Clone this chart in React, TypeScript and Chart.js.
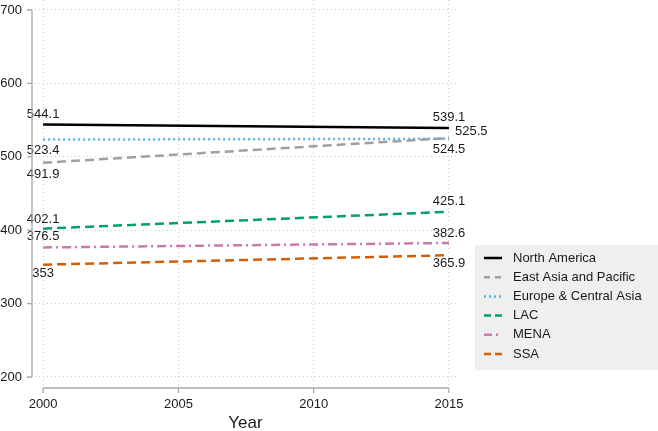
import React, { useEffect, useRef } from "react";
import { Chart, registerables } from "chart.js";

Chart.register(...registerables);

const years = [2000, 2015];
const seriesNames = [
  "North America",
  "East Asia and Pacific",
  "Europe & Central Asia",
  "LAC",
  "MENA",
  "SSA",
];
const northAmerica = [544.1, 539.1];
const eastAsiaPacific = [491.9, 525.5];
const europeCentralAsia = [523.4, 524.5];
const lac = [402.1, 425.1];
const mena = [376.5, 382.6];
const ssa = [353, 365.9];
const xTicks = [2000, 2005, 2010, 2015];
const yTicks = [200, 300, 400, 500, 600, 700];
const xTitle = "Year";

const seriesValues = [northAmerica, eastAsiaPacific, europeCentralAsia, lac, mena, ssa];
const colors = ["#000000", "#a0a0a0", "#56b4e9", "#009e73", "#cc79a7", "#d55e00"];
const dashes: number[][] = [[], [9, 5], [2, 3], [9, 5], [9, 4, 2, 4], [9, 5]];
const legendDashes: number[][] = [[], [6, 5], [2, 3], [7, 4], [8, 4, 2, 4], [7, 4]];
// label placement per series / point: [dx, dy, align]
const labelPlacement: [number, number, CanvasTextAlign][][] = [
  [[0, -10, "center"], [0, -11, "center"]],
  [[0, 12, "center"], [6, -7, "left"]],
  [[0, 11, "center"], [0, 11, "center"]],
  [[0, -9, "center"], [0, -10, "center"]],
  [[0, -11, "center"], [0, -10, "center"]],
  [[0, 9, "center"], [0, 8, "center"]],
];

const FONT = "'Liberation Sans', Arial, Helvetica, sans-serif";

const axesPlugin = {
  id: "customAxes",
  afterDraw(chart: any) {
    const ctx = chart.ctx;
    const xs = chart.scales.x;
    const ys = chart.scales.y;
    ctx.save();
    ctx.strokeStyle = "#a8a8a8";
    ctx.lineWidth = 1.3;
    ctx.setLineDash([]);
    const axX = chart.chartArea.left - 3;
    const yTop = ys.getPixelForValue(yTicks[yTicks.length - 1]);
    const yBot = ys.getPixelForValue(yTicks[0]);
    ctx.beginPath();
    ctx.moveTo(axX, yTop);
    ctx.lineTo(axX, yBot);
    yTicks.forEach((t) => {
      const p = ys.getPixelForValue(t);
      ctx.moveTo(axX - 5, p);
      ctx.lineTo(axX, p);
    });
    const axY = chart.chartArea.bottom + 3;
    const xL = xs.getPixelForValue(xTicks[0]);
    const xR = xs.getPixelForValue(xTicks[xTicks.length - 1]);
    ctx.moveTo(xL, axY);
    ctx.lineTo(xR, axY);
    xTicks.forEach((t) => {
      const p = xs.getPixelForValue(t);
      ctx.moveTo(p, axY);
      ctx.lineTo(p, axY + 5);
    });
    ctx.stroke();
    ctx.restore();
  },
};

const labelsPlugin = {
  id: "pointLabels",
  afterDatasetsDraw(chart: any) {
    const ctx = chart.ctx;
    ctx.save();
    ctx.font = `13px ${FONT}`;
    ctx.fillStyle = "#1a1a1a";
    ctx.textBaseline = "middle";
    chart.data.datasets.forEach((ds: any, i: number) => {
      const meta = chart.getDatasetMeta(i);
      meta.data.forEach((pt: any, j: number) => {
        const [dx, dy, align] = labelPlacement[i][j];
        ctx.textAlign = align;
        ctx.fillText(String(ds.data[j].y), pt.x + dx, pt.y + dy);
      });
    });
    ctx.restore();
  },
};

const legendPlugin = {
  id: "customLegend",
  afterDraw(chart: any) {
    const ctx = chart.ctx;
    const boxX = chart.chartArea.right + 19;
    const boxY = 245;
    const boxW = chart.width - boxX;
    const rowH = 19.2;
    const boxH = 12 + rowH * seriesNames.length - 2;
    ctx.save();
    ctx.fillStyle = "#efefef";
    ctx.fillRect(boxX, boxY, boxW, boxH);
    ctx.font = `13px ${FONT}`;
    ctx.textBaseline = "middle";
    ctx.textAlign = "left";
    chart.data.datasets.forEach((ds: any, i: number) => {
      const cy = boxY + 13 + i * rowH;
      ctx.strokeStyle = ds.borderColor;
      ctx.lineWidth = 2.5;
      ctx.setLineDash(legendDashes[i]);
      ctx.beginPath();
      ctx.moveTo(boxX + 9, cy);
      ctx.lineTo(boxX + 27, cy);
      ctx.stroke();
      ctx.setLineDash([]);
      ctx.fillStyle = "#1a1a1a";
      ctx.fillText(ds.label, boxX + 38, cy);
    });
    ctx.restore();
  },
};

export default function App() {
  const ref = useRef<HTMLCanvasElement | null>(null);
  useEffect(() => {
    document.body.style.margin = "0";
    const canvas = ref.current;
    if (!canvas) return;
    const datasets = seriesNames.map((name, i) => ({
      label: name,
      data: years.map((yr, j) => ({ x: yr, y: seriesValues[i][j] })),
      borderColor: colors[i],
      backgroundColor: colors[i],
      borderWidth: 2.5,
      borderDash: dashes[i],
      pointRadius: 0,
      fill: false,
      tension: 0,
    }));
    const chart = new Chart(canvas, {
      type: "line",
      data: { datasets },
      plugins: [axesPlugin, labelsPlugin, legendPlugin],
      options: {
        animation: false,
        responsive: false,
        devicePixelRatio: 1,
        layout: { padding: { top: 0, right: 202, bottom: 0, left: 0 } },
        plugins: { legend: { display: false }, tooltip: { enabled: false } },
        scales: {
          x: {
            type: "linear",
            min: 1999.7,
            max: 2015.26,
            afterBuildTicks: (s: any) => {
              s.ticks = xTicks.map((v) => ({ value: v }));
            },
            afterFit: (s: any) => {
              s.height = 46;
              s.paddingLeft = 0;
              s.paddingRight = 0;
            },
            grid: { color: "#cccccc", lineWidth: 1, drawTicks: false },
            border: { display: false, dash: [1, 3] },
            ticks: {
              callback: (v: any) => String(v),
              font: { family: FONT, size: 13 },
              color: "#1a1a1a",
              padding: 12,
              maxRotation: 0,
              autoSkip: false,
            },
            title: {
              display: true,
              text: xTitle,
              font: { family: FONT, size: 17 },
              color: "#1a1a1a",
              padding: { top: 0, bottom: -3 },
            },
          },
          y: {
            type: "linear",
            min: 189.1,
            max: 713.6,
            afterBuildTicks: (s: any) => {
              s.ticks = yTicks.map((v) => ({ value: v }));
            },
            afterFit: (s: any) => {
              s.width = 35;
              s.paddingTop = 0;
              s.paddingBottom = 0;
            },
            grid: { color: "#cccccc", lineWidth: 1, drawTicks: false },
            border: { display: false, dash: [1, 3] },
            ticks: {
              callback: (v: any) => String(v),
              font: { family: FONT, size: 13 },
              color: "#1a1a1a",
              padding: 13,
              autoSkip: false,
            },
          },
        },
      },
    });
    return () => chart.destroy();
  }, []);
  return (
    <div style={{ width: 658, height: 431 }}>
      <canvas ref={ref} width={658} height={431} style={{ display: "block" }} />
    </div>
  );
}
